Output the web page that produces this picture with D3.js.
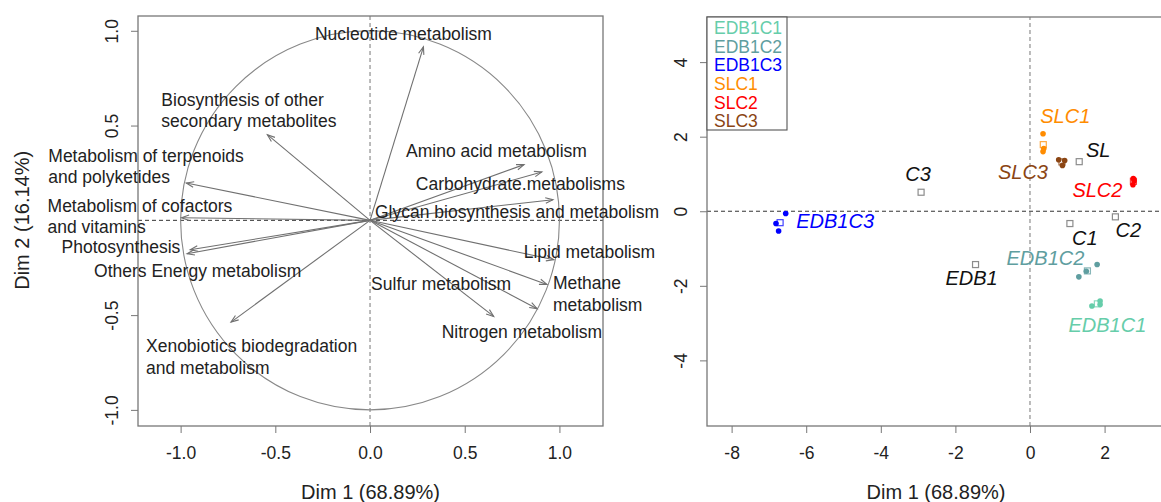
<!DOCTYPE html>
<html>
<head>
<meta charset="utf-8">
<script src="https://cdn.jsdelivr.net/npm/d3@7"></script>
<style>
  body { margin: 0; background: #fff; }
  svg { display: block; font-family: "Liberation Sans", Arial, sans-serif; }
</style>
</head>
<body>
<svg id="chart"></svg>
<script>
// ---- variables factor map (left) ----
const varNames = [
    'Nucleotide metabolism',
    'Biosynthesis of other\nsecondary metabolites',
    'Metabolism of terpenoids\nand polyketides',
    'Metabolism of cofactors\nand vitamins',
    'Photosynthesis',
    'Others Energy metabolism',
    'Xenobiotics biodegradation\nand metabolism',
    'Amino acid metabolism',
    'Carbohydrate.metabolisms',
    'Glycan biosynthesis and metabolism',
    'Lipid metabolism',
    'Methane\nmetabolism',
    'Sulfur metabolism',
    'Nitrogen metabolism'
];
const varDim1 = [0.282, -0.542, -0.970, -0.995, -0.949, -0.966, -0.734, 0.813, 0.907, 0.966, 0.970, 0.934, 0.882, 0.653];
const varDim2 = [0.915, 0.452, 0.197, 0.014, -0.155, -0.176, -0.537, 0.294, 0.255, 0.109, -0.208, -0.338, -0.466, -0.507];

const varTicksX = [-1.0, -0.5, 0.0, 0.5, 1.0];
const varTicksY = [-1.0, -0.5, 0.5, 1.0];

// ---- individuals factor map (right) ----
const groups = ['EDB1C1', 'EDB1C2', 'EDB1C3', 'SLC1', 'SLC2', 'SLC3'];
const groupColors = ['#66cdaa', '#5f9ea0', '#0000ff', '#ff8c00', '#ff0000', '#8b4513'];

const indGroup = ['EDB1C1', 'EDB1C1', 'EDB1C1', 'EDB1C2', 'EDB1C2', 'EDB1C2',
    'EDB1C3', 'EDB1C3', 'EDB1C3', 'SLC1', 'SLC1', 'SLC1',
    'SLC2', 'SLC2', 'SLC2', 'SLC3', 'SLC3', 'SLC3'];
const indDim1 = [1.66, 1.88, 1.88, 1.80, 1.31, 1.51, -6.55, -6.81, -6.74, 0.35, 0.37, 0.35, 2.77, 2.79, 2.76, 0.77, 0.93, 0.87];
const indDim2 = [-2.54, -2.41, -2.50, -1.43, -1.76, -1.61, -0.06, -0.33, -0.53, 2.08, 1.68, 1.60, 0.88, 0.82, 0.71, 1.38, 1.36, 1.23];

// supplementary categories (grey squares)
const supNames = ['SL', 'C1', 'C2', 'C3', 'EDB1'];
const supDim1 = [1.32, 1.07, 2.29, -2.92, -1.46];
const supDim2 = [1.33, -0.33, -0.15, 0.51, -1.43];

const indTicksX = [-8, -6, -4, -2, 0, 2];
const indTicksY = [-4, -2, 0, 2, 4];

// label nudges (px) from the point they belong to
const varLabelNudge = {
    'Nucleotide metabolism': [-20, -7, 'middle'],
    'Biosynthesis of other\nsecondary metabolites': [-106, -29, 'start'],
    'Metabolism of terpenoids\nand polyketides': [-138, -21, 'start'],
    'Metabolism of cofactors\nand vitamins': [-134, -6, 'start'],
    'Photosynthesis': [-10, 3, 'end'],
    'Others Energy metabolism': [-93, 23, 'start'],
    'Xenobiotics biodegradation\nand metabolism': [-85, 30, 'start'],
    'Amino acid metabolism': [-118, -8, 'start'],
    'Carbohydrate.metabolisms': [-126, 18, 'start'],
    'Glycan biosynthesis and metabolism': [-178, 18, 'start'],
    'Lipid metabolism': [-30, -2, 'start'],
    'Methane\nmetabolism': [6, 5, 'start'],
    'Sulfur metabolism': [-166, -19, 'start'],
    'Nitrogen metabolism': [-52, 22, 'start']
};
const indLabelNudge = {
    SLC1: [22, -22], SL: [19, -5], SLC3: [-39, 17], SLC2: [-36, 16],
    C3: [-3, -11], C2: [13, 20], C1: [15, 21], EDB1C2: [-42, -6],
    EDB1: [-4, 20], EDB1C1: [10, 28], EDB1C3: [55, 5]
};

const W = 1161, H = 502;
const grey = '#777', ink = '#222';

const svg = d3.select('#chart').attr('width', W).attr('height', H);
svg.append('rect').attr('width', W).attr('height', H).attr('fill', '#fff');

const color = d3.scaleOrdinal().domain(groups).range(groupColors);

function drawFrame(g, x, y, ticksX, ticksY) {
    const [x0, x1] = x.range();
    const [y0, y1] = y.range();
    const fmt = s => (Math.abs(s.domain()[1]) < 2 ? d3.format('.1f') : d3.format('d'));
    const fx = fmt(x), fy = fmt(y);

    // axes
    const ax = g.append('g')
        .attr('transform', `translate(0, ${y0})`)
        .call(d3.axisBottom(x).tickValues(ticksX).tickSize(7).tickPadding(14)
            .tickFormat(d => fx(d).replace('−', '-')));
    const ay = g.append('g')
        .attr('transform', `translate(${x0}, 0)`)
        .call(d3.axisLeft(y).tickValues(ticksY).tickSize(7)
            .tickFormat(d => fy(d).replace('−', '-')));
    [ax, ay].forEach(a => {
        a.select('.domain').remove();
        a.selectAll('line').attr('stroke', grey);
        a.selectAll('text').attr('fill', ink).style('font-size', '17.5px');
    });
    ay.selectAll('text')
        .attr('transform', 'rotate(-90)')
        .attr('x', 0).attr('y', -20).attr('dy', 0)
        .attr('text-anchor', 'middle');

    // reference lines
    g.append('line')
        .attr('x1', x0).attr('x2', x1).attr('y1', y(0)).attr('y2', y(0))
        .attr('stroke', '#333').attr('stroke-dasharray', '4,3');
    g.append('line')
        .attr('x1', x(0)).attr('x2', x(0)).attr('y1', y0).attr('y2', y1)
        .attr('stroke', grey).attr('stroke-dasharray', '4,3');

    // box
    g.append('rect')
        .attr('x', x0).attr('y', y1)
        .attr('width', x1 - x0).attr('height', y0 - y1)
        .attr('fill', 'none').attr('stroke', grey).attr('stroke-width', 1.3);

    // axis title
    g.append('text')
        .attr('x', (x0 + x1) / 2).attr('y', 499)
        .attr('text-anchor', 'middle').attr('fill', ink)
        .style('font-size', '20px')
        .text('Dim 1 (68.89%)');
}

// ---------- left panel ----------
const xL = d3.scaleLinear().domain([-1.225, 1.23]).range([138, 603]);
const yL = d3.scaleLinear().domain([-1.085, 1.078]).range([426, 16]);
const left = svg.append('g');

drawFrame(left, xL, yL, varTicksX, varTicksY);

left.append('text')
    .attr('transform', `translate(29, ${yL(0)}) rotate(-90)`)
    .attr('text-anchor', 'middle').attr('fill', ink)
    .style('font-size', '20px')
    .text('Dim 2 (16.14%)');

// correlation circle
left.append('ellipse')
    .attr('cx', xL(0)).attr('cy', yL(0))
    .attr('rx', xL(1) - xL(0)).attr('ry', yL(0) - yL(1))
    .attr('fill', 'none').attr('stroke', '#888').attr('stroke-width', 1.1);

const vars = varNames.map((name, i) => ({ name, x: varDim1[i], y: varDim2[i] }));

const arrows = left.append('g')
    .attr('stroke', '#707070').attr('stroke-width', 1.1).attr('fill', 'none');

arrows.selectAll('line')
    .data(vars)
    .join('line')
    .attr('x1', xL(0)).attr('y1', yL(0))
    .attr('x2', d => xL(d.x)).attr('y2', d => yL(d.y));

arrows.selectAll('path')
    .data(vars)
    .join('path')
    .attr('d', d => {
        const tx = xL(d.x), ty = yL(d.y);
        const a = Math.atan2(ty - yL(0), tx - xL(0));
        const len = 8, spread = Math.PI / 9;
        const p1 = [tx - len * Math.cos(a - spread), ty - len * Math.sin(a - spread)];
        const p2 = [tx - len * Math.cos(a + spread), ty - len * Math.sin(a + spread)];
        return `M${p1}L${tx},${ty}L${p2}`;
    });

const varText = left.append('g')
    .style('font-size', '17.5px').attr('fill', ink)
    .selectAll('text')
    .data(vars)
    .join('text')
    .attr('text-anchor', d => varLabelNudge[d.name][2])
    .attr('transform', d => `translate(${xL(d.x) + varLabelNudge[d.name][0]}, ${yL(d.y) + varLabelNudge[d.name][1]})`);

varText.selectAll('tspan')
    .data(d => d.name.split('\n'))
    .join('tspan')
    .attr('x', 0)
    .attr('y', (d, i) => i * 21.5)
    .text(d => d);

// ---------- right panel ----------
const xR = d3.scaleLinear().domain([-8.66, 3.62]).range([707, 1165]);
const yR = d3.scaleLinear().domain([-5.76, 5.21]).range([426, 17]);
const right = svg.append('g');

drawFrame(right, xR, yR, indTicksX, indTicksY);

const inds = indGroup.map((grp, i) => ({ grp, x: indDim1[i], y: indDim2[i] }));
const centroids = groups.map(grp => {
    const pts = inds.filter(d => d.grp === grp);
    return { name: grp, x: d3.mean(pts, d => d.x), y: d3.mean(pts, d => d.y), col: color(grp), textCol: color(grp) };
});
const sups = supNames.map((name, i) => ({ name, x: supDim1[i], y: supDim2[i], col: '#666', textCol: '#111' }));

const sq = 6;
right.append('g')
    .selectAll('rect')
    .data(centroids.concat(sups))
    .join('rect')
    .attr('x', d => xR(d.x) - sq / 2).attr('y', d => yR(d.y) - sq / 2)
    .attr('width', sq).attr('height', sq)
    .attr('fill', '#fff')
    .attr('stroke', d => d.col)
    .attr('stroke-opacity', 0.75)
    .attr('stroke-width', 1.2);

right.append('g')
    .selectAll('circle')
    .data(inds)
    .join('circle')
    .attr('cx', d => xR(d.x)).attr('cy', d => yR(d.y))
    .attr('r', 2.8)
    .attr('fill', d => color(d.grp));

right.append('g')
    .style('font-size', '20px').style('font-style', 'italic')
    .selectAll('text')
    .data(centroids.concat(sups))
    .join('text')
    .attr('text-anchor', 'middle')
    .attr('x', d => xR(d.x) + indLabelNudge[d.name][0])
    .attr('y', d => yR(d.y) + indLabelNudge[d.name][1])
    .attr('fill', d => d.textCol)
    .text(d => d.name);

// legend
const legend = right.append('g');
legend.append('rect')
    .attr('x', xR.range()[0]).attr('y', yR.range()[1])
    .attr('width', 80).attr('height', 113)
    .attr('fill', '#fff').attr('stroke', '#555').attr('stroke-width', 1.1);
legend.selectAll('text')
    .data(groups)
    .join('text')
    .attr('x', xR.range()[0] + 7)
    .attr('y', (d, i) => 34 + i * 18.66)
    .attr('fill', d => color(d))
    .style('font-size', '17.5px')
    .text(d => d);
</script>
</body>
</html>
